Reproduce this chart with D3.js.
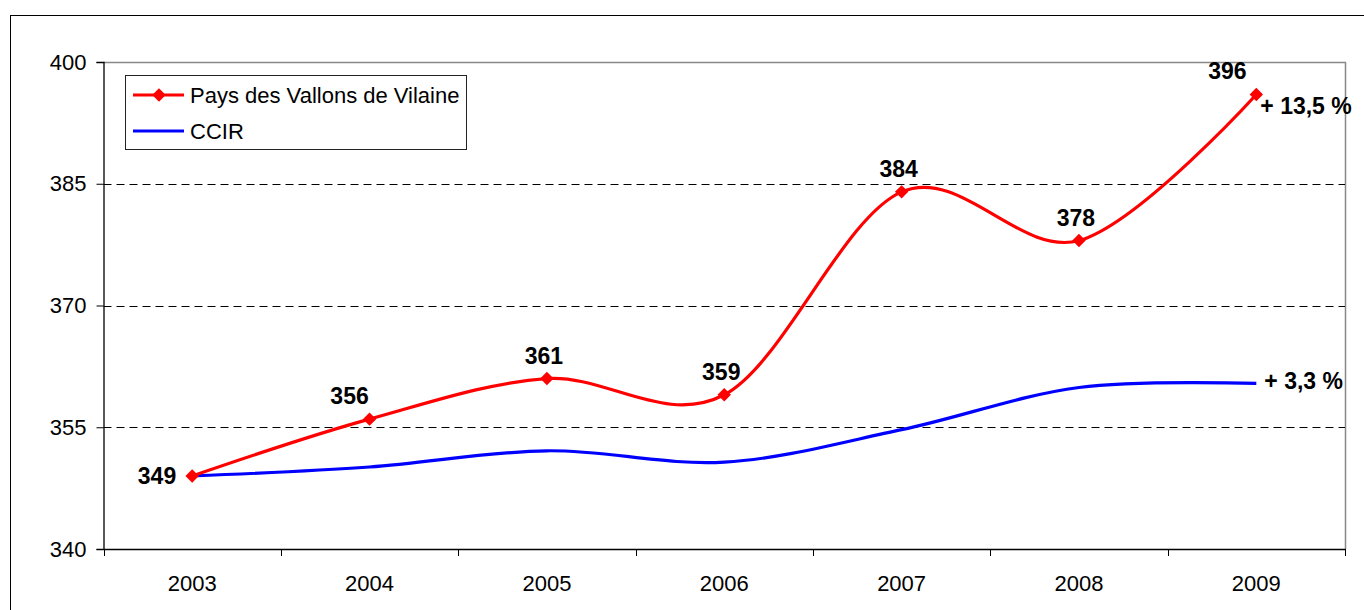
<!DOCTYPE html>
<html>
<head>
<meta charset="utf-8">
<script src="https://cdn.jsdelivr.net/npm/d3@7"></script>
<style>
    body { margin: 0; background: #fff; }
    svg text { font-family: "Liberation Sans", Arial, sans-serif; }
</style>
</head>
<body>
<svg class="chart" width="1364" height="610"></svg>
<script>

var years = ["2003", "2004", "2005", "2006", "2007", "2008", "2009"];
var paysValues = [349, 356, 361, 359, 384, 378, 396]; // Pays des Vallons de Vilaine
var ccirValues = [349, 350.1, 352.1, 350.7, 354.7, 359.9, 360.4]; // CCIR
var yTicks = [340, 355, 370, 385, 400];
var seriesNames = ["Pays des Vallons de Vilaine", "CCIR"];
var endLabels = ["+ 13,5 %", "+ 3,3 %"];

window.onload = function () {

    var svg = d3.select("svg.chart");

    var left = 103.5, right = 1345, top = 62, bottom = 549;

    var x = d3.scaleBand() // One band per year, points in the middle of each band.
        .domain(years)
        .range([left, right]);

    var y = d3.scaleLinear()
        .domain([340, 400])
        .range([bottom, top]);

    var cx = function (year) { return x(year) + x.bandwidth() / 2; };

    svg.append("rect") // Outer frame, runs off the right and bottom of the picture.
        .attr("x", 10.5).attr("y", 15.5)
        .attr("width", 1400).attr("height", 700)
        .attr("fill", "none").attr("stroke", "#000");

    // Plot area border (grey top and right edges).
    svg.append("path")
        .attr("d", "M" + left + "," + (top + 0.5) + "H" + (right + 0.5) + "V" + bottom)
        .attr("fill", "none").attr("stroke", "#888").attr("stroke-width", 1.5);

    // Dashed grid lines.
    svg.selectAll("line.grid")
        .data(yTicks.filter(t => t > 340 && t < 400))
        .enter()
        .append("line")
            .attr("class", "grid")
            .attr("x1", left).attr("x2", right)
            .attr("y1", d => Math.round(y(d)) + 0.5)
            .attr("y2", d => Math.round(y(d)) + 0.5)
            .attr("stroke", "#000")
            .attr("stroke-dasharray", "8,5");

    var yAxis = svg.append("g")
        .attr("transform", "translate(" + left + ",0)")
        .call(d3.axisLeft(y).tickValues(yTicks).tickSize(7).tickPadding(10));

    var xAxis = svg.append("g")
        .attr("transform", "translate(0," + bottom + ")")
        .call(d3.axisBottom(x).tickSize(0).tickPadding(30));

    // Ticks between categories.
    xAxis.selectAll("line.sep")
        .data(d3.range(years.length + 1))
        .enter()
        .append("line")
            .attr("class", "sep")
            .attr("x1", i => Math.round(left + i * x.bandwidth()) + 0.5)
            .attr("x2", i => Math.round(left + i * x.bandwidth()) + 0.5)
            .attr("y1", 0).attr("y2", 7)
            .attr("stroke", "#000");

    [yAxis, xAxis].forEach(function (g) {
        g.select(".domain").attr("stroke", "#000").attr("stroke-width", 1.3);
        g.selectAll("text").attr("font-size", 22).attr("fill", "#000")
            .style("font-family", "'Liberation Sans', Arial, sans-serif");
    });
    xAxis.selectAll(".tick text").attr("dy", 0).attr("y", 42);

    var line = d3.line()
        .x((d, i) => cx(years[i]))
        .y(d => y(d))
        .curve(d3.curveCatmullRom.alpha(0));

    svg.append("path") // CCIR, drawn first so the red series sits on top.
        .datum(ccirValues)
        .attr("d", line)
        .attr("fill", "none")
        .attr("stroke", "#0000ff")
        .attr("stroke-width", 3.2);

    svg.append("path")
        .datum(paysValues)
        .attr("d", line)
        .attr("fill", "none")
        .attr("stroke", "#ff0000")
        .attr("stroke-width", 3.2);

    var marker = d3.symbol().type(d3.symbolSquare).size(90);

    svg.selectAll("path.marker")
        .data(paysValues)
        .enter()
        .append("path")
            .attr("class", "marker")
            .attr("transform", (d, i) => "translate(" + cx(years[i]) + "," + y(d) + ") rotate(45)")
            .attr("d", marker)
            .attr("fill", "#ff0000");

    // Value labels: first one sits left of its point, the rest above.
    svg.selectAll("text.value")
        .data(paysValues)
        .enter()
        .append("text")
            .attr("class", "value")
            .attr("x", function (d, i) {
                if (i === 0) return cx(years[i]) - 16;
                if (i === 1) return cx(years[i]) - 20;
                if (i === years.length - 1) return cx(years[i]) - 29;
                return cx(years[i]) - 3;
            })
            .attr("y", (d, i) => i === 0 ? y(d) + 8 : y(d) - 15)
            .attr("text-anchor", (d, i) => i === 0 ? "end" : "middle")
            .attr("font-size", 23)
            .attr("font-weight", "bold")
            .text(d => d);

    var last = years.length - 1;
    [paysValues, ccirValues].forEach(function (values, k) {
        svg.append("text")
            .attr("x", cx(years[last]) + (k === 0 ? 4 : 8))
            .attr("y", y(values[last]) + (k === 0 ? 20 : 6))
            .attr("font-size", 23)
            .attr("font-weight", "bold")
            .text(endLabels[k]);
    });

    // Legend.
    var legend = svg.append("g");
    legend.append("rect")
        .attr("x", 125.5).attr("y", 75.5)
        .attr("width", 341).attr("height", 74)
        .attr("fill", "#fff").attr("stroke", "#222");

    var colors = ["#ff0000", "#0000ff"];
    seriesNames.forEach(function (name, k) {
        var ly = 95 + k * 36;
        legend.append("line")
            .attr("x1", 133).attr("x2", 184)
            .attr("y1", ly).attr("y2", ly)
            .attr("stroke", colors[k]).attr("stroke-width", 3.2);
        if (k === 0) {
            legend.append("path")
                .attr("transform", "translate(159," + ly + ") rotate(45)")
                .attr("d", marker)
                .attr("fill", colors[k]);
        }
        legend.append("text")
            .attr("x", 190).attr("y", ly)
            .attr("dy", "0.35em")
            .attr("font-size", 22)
            .text(name);
    });
};
</script>
</body>
</html>
